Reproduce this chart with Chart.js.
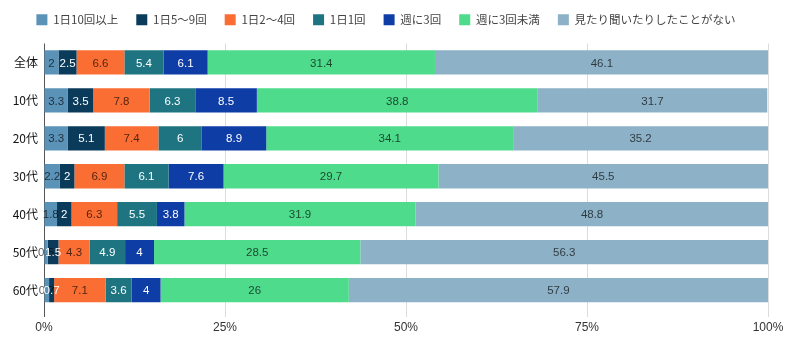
<!DOCTYPE html>
<html>
<head>
<meta charset="utf-8">
<script src="https://cdn.jsdelivr.net/npm/chart.js@4"></script>
<style>
  html, body { margin: 0; padding: 0; background: #fff; }
  #wrap { width: 800px; height: 352px; }
</style>
</head>
<body>
<div id="wrap"><canvas id="myChart" width="800" height="352"></canvas></div>
<script>
// categories (rows)
const ages = ['全体', '10代', '20代', '30代', '40代', '50代', '60代'];
const seriesNames = ['1日10回以上', '1日5～9回', '1日2～4回', '1日1回', '週に3回', '週に3回未満', '見たり聞いたりしたことがない'];

// values per series, one per row
const times10plus = [2, 3.3, 3.3, 2.2, 1.8, 0.5, 0.7];
const times5to9 = [2.5, 3.5, 5.1, 2, 2, 1.5, 0.7];
const times2to4 = [6.6, 7.8, 7.4, 6.9, 6.3, 4.3, 7.1];
const onceDaily = [5.4, 6.3, 6, 6.1, 5.5, 4.9, 3.6];
const weekly3 = [6.1, 8.5, 8.9, 7.6, 3.8, 4, 4];
const weeklyUnder3 = [31.4, 38.8, 34.1, 29.7, 31.9, 28.5, 26];
const never = [46.1, 31.7, 35.2, 45.5, 48.8, 56.3, 57.9];

const xTicks = [0, 25, 50, 75, 100];

const colors = ['#5b93b8', '#0b3b5a', '#fa6d33', '#1e7581', '#0f3da6', '#4edb8c', '#8db1c7'];
const dark = 'rgba(0, 0, 0, 0.68)';
const labelColors = [dark, '#fff', dark, '#fff', '#fff', dark, dark];
const allValues = [times10plus, times5to9, times2to4, onceDaily, weekly3, weeklyUnder3, never];

// simple inline value labels
const valueLabels = {
    id: 'valueLabels',
    afterDatasetsDraw(chart) {
        const c = chart.ctx;
        c.save();
        c.font = '11.5px "Liberation Sans", Arial, sans-serif';
        c.textAlign = 'center';
        c.textBaseline = 'middle';
        chart.data.datasets.forEach((ds, i) => {
            chart.getDatasetMeta(i).data.forEach((bar, j) => {
                const p = bar.getProps(['x', 'y', 'base'], true);
                c.fillStyle = labelColors[i];
                c.fillText(String(ds.data[j]), (p.x + p.base) / 2, p.y + 1);
            });
        });
        c.restore();
    }
};

// nudge legend up a bit
const legendShift = {
    id: 'legendShift',
    afterLayout(chart) {
        chart.legend.top -= 8;
        chart.legend.bottom -= 8;
    }
};

const ctx = document.getElementById('myChart').getContext('2d');
const myChart = new Chart(ctx, {
    type: 'bar',
    data: {
        labels: ages,
        datasets: seriesNames.map((name, i) => ({
            label: name,
            data: allValues[i],
            backgroundColor: colors[i],
            borderWidth: 0,
            barPercentage: 0.64,
            categoryPercentage: 1
        }))
    },
    options: {
        indexAxis: 'y',
        responsive: false,
        animation: false,
        layout: { padding: { left: 4, right: 32, top: 4, bottom: 13 } },
        plugins: {
            legend: {
                position: 'top',
                labels: {
                    boxWidth: 11,
                    boxHeight: 11,
                    padding: 18,
                    color: '#444',
                    font: { family: '"Noto Sans CJK JP", sans-serif', size: 11.5 }
                }
            },
            tooltip: { enabled: false }
        },
        scales: {
            x: {
                stacked: true,
                min: 0,
                max: 100,
                afterBuildTicks: s => { s.ticks = xTicks.map(v => ({ value: v })); },
                afterFit: s => { s.height = 30; },
                ticks: {
                    callback: v => v + '%',
                    color: '#333',
                    font: { family: '"Liberation Sans", Arial, sans-serif', size: 12 }
                },
                grid: {
                    color: c => c.tick && c.tick.value === 0 ? '#555' : '#dcdcdc',
                    tickLength: 8
                },
                border: { display: false }
            },
            y: {
                stacked: true,
                afterFit: s => { s.width = 40; },
                grid: { display: false },
                border: { display: false },
                ticks: {
                    color: '#111',
                    padding: -2,
                    font: { family: '"Noto Sans CJK JP", sans-serif', size: 12 }
                }
            }
        }
    },
    plugins: [valueLabels, legendShift]
});
</script>
</body>
</html>
